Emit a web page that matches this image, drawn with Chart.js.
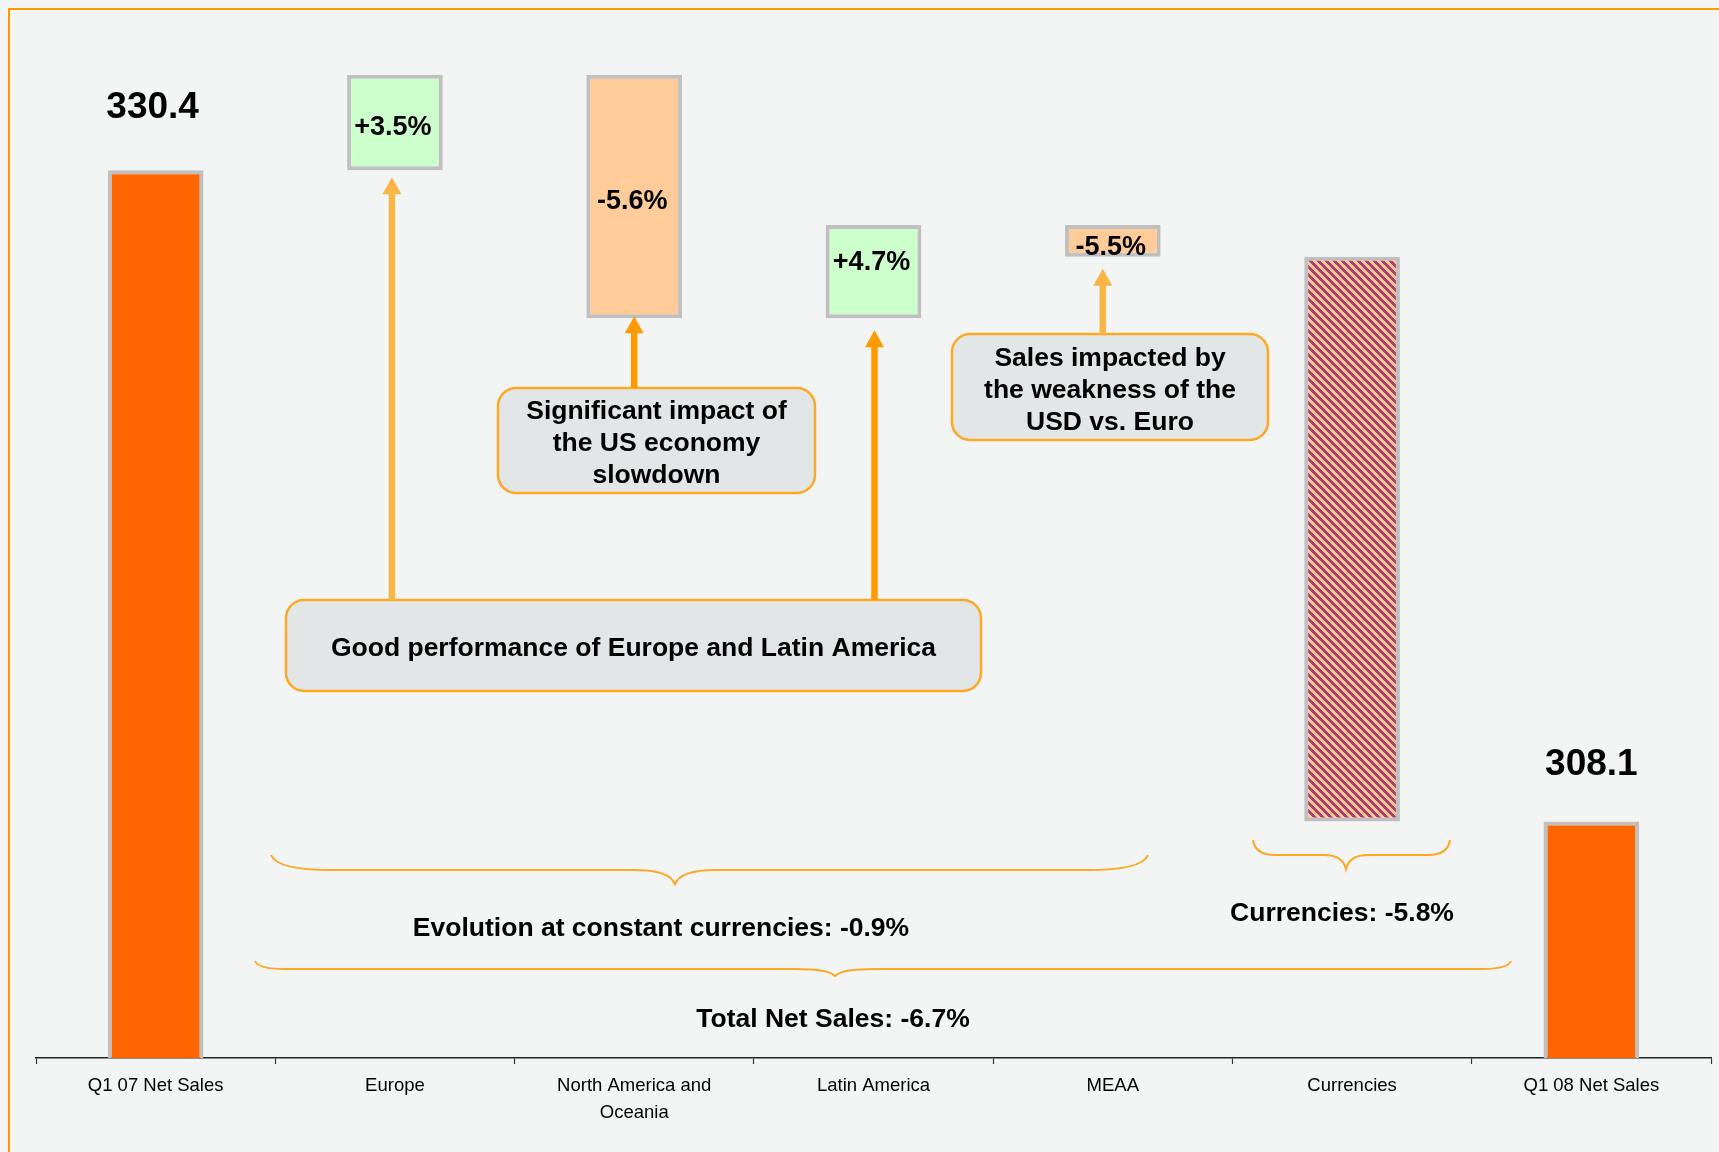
<!DOCTYPE html>
<html>
<head>
<meta charset="utf-8">
<title>Net sales bridge Q1 07 - Q1 08</title>
<script src="https://cdn.jsdelivr.net/npm/chart.js@4.4.0/dist/chart.umd.min.js"></script>
<style>
  html, body { margin: 0; padding: 0; background: #f3f4f4; }
  #wrap { width: 1719px; height: 1152px; position: relative; }
</style>
</head>
<body>
<div id="wrap"><canvas id="bridge"></canvas></div>
<script>
const categories = ['Q1 07 Net Sales', 'Europe', ['North America and', 'Oceania'], 'Latin America', 'MEAA', 'Currencies', 'Q1 08 Net Sales'];
const openingSales = 330.4;
const closingSales = 308.1;
// change brought by each step (sales units) and the growth rate printed in its box
const stepChanges = [3.27, -8.34, 3.20, -1.09, -19.34];
const stepRates = ['+3.5%', '-5.6%', '+4.7%', '-5.5%', null];
const constantCurrencyRate = '-0.9%';
const currencyRate = '-5.8%';
const totalRate = '-6.7%';

const FONT = '"Liberation Sans", Arial, Helvetica, sans-serif';

// running level after each step, then floating bars between levels
const levels = [openingSales];
stepChanges.forEach(c => levels.push(levels[levels.length - 1] + c));
const barData = [openingSales];
stepChanges.forEach((c, i) => barData.push([levels[i], levels[i + 1]]));
barData.push(closingSales);

// diagonal stripes for the currency effect
function stripePattern() {
    const tile = document.createElement('canvas');
    tile.width = 8;
    tile.height = 8;
    const t = tile.getContext('2d');
    for (let px = 0; px < 8; px++) {
        for (let py = 0; py < 8; py++) {
            t.fillStyle = (((px - py) % 8) + 8) % 8 < 4 ? '#ad3f72' : '#fbc88f';
            t.fillRect(px, py, 1, 1);
        }
    }
    return t.createPattern(tile, 'repeat');
}

const barColors = barData.map((v, i) => {
    if (i === 0 || i === barData.length - 1) return '#ff6600';
    if (i === 5) return stripePattern();
    return stepChanges[i - 1] >= 0 ? '#ccffcc' : '#ffcc99';
});

function arrow(ctx, x, yFrom, yTip, color) {
    const shaft = 6.5, head = 19, headLen = 17;
    ctx.fillStyle = color;
    ctx.fillRect(x - shaft / 2, yTip + headLen - 1, shaft, yFrom - yTip - headLen + 1);
    ctx.beginPath();
    ctx.moveTo(x, yTip);
    ctx.lineTo(x + head / 2, yTip + headLen);
    ctx.lineTo(x - head / 2, yTip + headLen);
    ctx.closePath();
    ctx.fill();
}

function brace(ctx, x0, x1, xTip, yEnd, yMid, yTip, rEnd, rTip) {
    ctx.beginPath();
    ctx.moveTo(x0, yEnd);
    ctx.quadraticCurveTo(x0 + rEnd * 0.1, yMid, x0 + rEnd, yMid);
    ctx.lineTo(xTip - rTip, yMid);
    ctx.quadraticCurveTo(xTip - rTip * 0.15, yMid, xTip, yTip);
    ctx.quadraticCurveTo(xTip + rTip * 0.15, yMid, xTip + rTip, yMid);
    ctx.lineTo(x1 - rEnd, yMid);
    ctx.quadraticCurveTo(x1 - rEnd * 0.1, yMid, x1, yEnd);
    ctx.stroke();
}

function callout(ctx, left, top, right, bottom, lines, lineGap) {
    ctx.save();
    ctx.beginPath();
    ctx.roundRect(left, top, right - left, bottom - top, 18);
    ctx.fillStyle = '#e2e6e6';
    ctx.fill();
    ctx.lineWidth = 2.5;
    ctx.strokeStyle = '#ffa826';
    ctx.stroke();
    ctx.fillStyle = '#000';
    ctx.font = 'bold 26.5px ' + FONT;
    ctx.textAlign = 'center';
    ctx.textBaseline = 'middle';
    const cx = (left + right) / 2;
    const cy = (top + bottom) / 2 + 3.5;
    lines.forEach((s, i) => {
        ctx.fillText(s, cx, cy + (i - (lines.length - 1) / 2) * lineGap);
    });
    ctx.restore();
}

const backdrop = {
    id: 'backdrop',
    beforeDraw(chart) {
        const ctx = chart.ctx;
        ctx.save();
        ctx.fillStyle = '#f3f4f4';
        ctx.fillRect(0, 0, chart.width, chart.height);
        ctx.strokeStyle = '#ff9900';
        ctx.lineWidth = 2;
        ctx.strokeRect(9, 9, chart.width + 50, chart.height + 50);
        ctx.restore();
    }
};

const notes = {
    id: 'notes',
    afterDraw(chart) {
        const ctx = chart.ctx;
        const bars = chart.getDatasetMeta(0).data;
        const top = i => Math.min(bars[i].y, bars[i].base);
        const bottom = i => Math.max(bars[i].y, bars[i].base);

        ctx.save();
        ctx.fillStyle = '#000';
        ctx.textAlign = 'center';
        ctx.textBaseline = 'middle';

        // totals above the first and last bar
        ctx.font = 'bold 37px ' + FONT;
        ctx.fillText(openingSales.toFixed(1), bars[0].x - 3, bars[0].y - 63);
        const last = bars.length - 1;
        ctx.fillText(closingSales.toFixed(1), bars[last].x, bars[last].y - 57);

        // growth rates inside the step boxes
        const nudge = [5, 5, -9, 7];
        ctx.font = 'bold 27px ' + FONT;
        stepRates.forEach((r, k) => {
            if (!r) return;
            const i = k + 1;
            ctx.fillText(r, bars[i].x - 2, (top(i) + bottom(i)) / 2 + nudge[k]);
        });

        // braces and their captions
        ctx.strokeStyle = '#ffa826';
        ctx.lineWidth = 2;
        brace(ctx, 271, 1148, 675, 855, 870, 884, 60, 40);
        brace(ctx, 1253, 1450, 1346, 840, 855, 869, 22, 22);
        brace(ctx, 255, 1511, 835, 961, 969, 976, 30, 40);

        ctx.fillStyle = '#000';
        ctx.font = 'bold 26.5px ' + FONT;
        ctx.fillText('Evolution at constant currencies: ' + constantCurrencyRate, 661, 929);
        ctx.fillText('Currencies: ' + currencyRate, 1342, 914);
        ctx.fillText('Total Net Sales: ' + totalRate, 833, 1020);
        ctx.restore();

        // comment boxes and the arrows pointing at their bars
        ctx.save();
        callout(ctx, 286, 600, 981, 691, ['Good performance of Europe and Latin America'], 32);
        callout(ctx, 498, 388, 815, 493, ['Significant impact of', 'the US economy', 'slowdown'], 32);
        callout(ctx, 952, 334, 1268, 440, ['Sales impacted by', 'the weakness of the', 'USD vs. Euro'], 32);

        arrow(ctx, bars[1].x - 3, 600, bottom(1) + 7, '#f9b545');
        arrow(ctx, bars[2].x, 388, bottom(2) - 2, '#ff9900');
        arrow(ctx, bars[3].x + 1, 600, bottom(3) + 12, '#ff9900');
        arrow(ctx, bars[4].x - 10, 334, bottom(4) + 12, '#f9b545');
        ctx.restore();
    }
};

new Chart(document.getElementById('bridge'), {
    type: 'bar',
    data: {
        labels: categories,
        datasets: [{
            data: barData,
            backgroundColor: barColors,
            borderColor: '#c0c0c0',
            borderWidth: 4,
            borderSkipped: false,
            barPercentage: 0.4,
            categoryPercentage: 1,
            clip: 0
        }]
    },
    options: {
        responsive: true,
        maintainAspectRatio: false,
        animation: false,
        layout: {
            padding: {top: 36, left: 36, right: 8, bottom: 0}
        },
        scales: {
            x: {
                grid: {
                    display: true,
                    drawOnChartArea: false,
                    drawTicks: true,
                    tickLength: 6,
                    tickColor: '#333',
                    tickWidth: 1.2,
                    offset: true
                },
                border: {display: true, color: '#222', width: 1.5},
                ticks: {
                    color: '#000',
                    padding: 9,
                    maxRotation: 0,
                    autoSkip: false,
                    font: {family: FONT, size: 18.5, lineHeight: 1.43}
                },
                afterFit(scale) {
                    scale.height = 94;
                }
            },
            y: {
                display: false,
                min: 300,
                max: 335
            }
        },
        plugins: {
            legend: {display: false},
            tooltip: {enabled: false}
        }
    },
    plugins: [backdrop, notes]
});
</script>
</body>
</html>
